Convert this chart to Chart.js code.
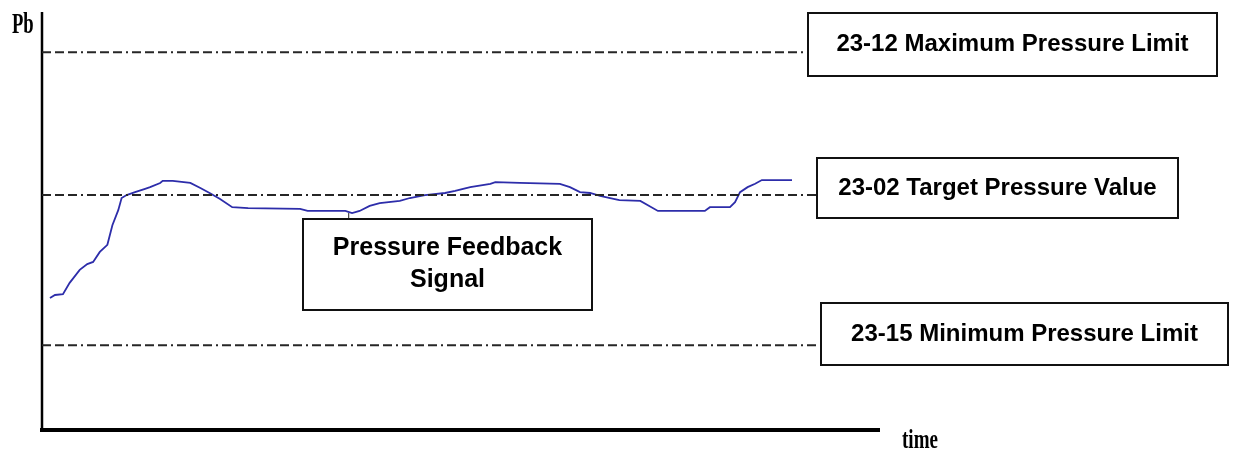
<!DOCTYPE html>
<html>
<head>
<meta charset="utf-8">
<script src="https://cdn.jsdelivr.net/npm/chart.js@4"></script>
<style>
  body { margin: 0; background: #fff; }
  canvas { display: block; }
</style>
</head>
<body>
<canvas id="pressureChart" width="1234" height="453"></canvas>
<script>
// time (s) and pressure feedback (bar)
const timeSec = [0.95, 1.55, 2.5, 3.3, 4.5, 5.4, 6.1, 6.9, 7.8, 8.4,
    9.1, 9.5, 10.1, 11.1, 12.3, 12.9, 14.1, 14.4, 15.6, 17.7,
    18.9, 20.0, 21.2, 22.7, 24.6, 30.8, 31.7, 36.2, 37.0, 37.9,
    39.1, 40.3, 42.7, 43.9, 45.7, 48.1, 49.3, 51.1, 53.5, 54.1,
    57.0, 61.8, 63.0, 64.2, 65.4, 66.6, 67.8, 68.9, 71.4, 73.5,
    76.1, 79.1, 79.7, 82.1, 82.7, 83.3, 84.2, 85.1, 85.9, 89.5];
const feedback = [3.16, 3.23, 3.25, 3.52, 3.83, 3.97, 4.02, 4.26, 4.43, 4.90,
    5.26, 5.55, 5.62, 5.69, 5.77, 5.81, 5.91, 5.96, 5.96, 5.91,
    5.79, 5.67, 5.53, 5.33, 5.31, 5.29, 5.24, 5.24, 5.19, 5.24,
    5.36, 5.43, 5.48, 5.55, 5.62, 5.67, 5.72, 5.81, 5.89, 5.93,
    5.91, 5.89, 5.81, 5.69, 5.67, 5.60, 5.55, 5.50, 5.48, 5.24,
    5.24, 5.24, 5.33, 5.33, 5.45, 5.69, 5.81, 5.89, 5.98, 5.98];

const limitNames = ['23-12 Maximum Pressure Limit', '23-02 Target Pressure Value', '23-15 Minimum Pressure Limit'];
const limitValues = [9.04, 5.62, 2.03];
const limitEnds = [91.4, 92.5, 93.0];

function hline(i) {
    return {
        label: limitNames[i],
        data: [{ x: 0, y: limitValues[i] }, { x: limitEnds[i], y: limitValues[i] }],
        borderColor: '#262626',
        borderWidth: 2,
        borderDash: [9, 4, 9, 4, 9, 4, 2, 4],
        pointRadius: 0
    };
}

function box(ctx, x, y, w, h, lines, size, lineGap) {
    ctx.fillStyle = '#fff';
    ctx.fillRect(x, y, w, h);
    ctx.strokeStyle = '#111';
    ctx.lineWidth = 2;
    ctx.strokeRect(x, y, w, h);
    ctx.fillStyle = '#000';
    ctx.font = 'bold ' + size + 'px "Liberation Sans", Arial, sans-serif';
    ctx.textAlign = 'center';
    ctx.textBaseline = 'middle';
    const cy = y + h / 2 - (lines.length - 1) * lineGap / 2;
    lines.forEach((t, k) => ctx.fillText(t, x + w / 2, cy + k * lineGap));
}

const sketch = {
    id: 'sketch',
    beforeDatasetsDraw(chart) {
        const ctx = chart.ctx;
        const xs = chart.scales.x, ys = chart.scales.y;
        ctx.save();
        ctx.strokeStyle = '#000';
        ctx.lineWidth = 2.5;
        ctx.beginPath();
        ctx.moveTo(xs.getPixelForValue(0), ys.getPixelForValue(10));
        ctx.lineTo(xs.getPixelForValue(0), ys.getPixelForValue(0));
        ctx.stroke();
        ctx.lineWidth = 4;
        ctx.beginPath();
        ctx.moveTo(xs.getPixelForValue(0) - 2, ys.getPixelForValue(0));
        ctx.lineTo(xs.getPixelForValue(100), ys.getPixelForValue(0));
        ctx.stroke();
        ctx.restore();
    },
    afterDatasetsDraw(chart) {
        const ctx = chart.ctx;
        const xs = chart.scales.x, ys = chart.scales.y;
        ctx.save();
        // axis names, narrow serif
        ctx.fillStyle = '#000';
        ctx.textAlign = 'left';
        ctx.textBaseline = 'alphabetic';
        ctx.save();
        ctx.translate(12, 33);
        ctx.scale(0.62, 1);
        ctx.font = 'bold 30px "Liberation Serif", serif';
        ctx.fillText('Pb', 0, 0);
        ctx.restore();
        ctx.save();
        ctx.translate(902, 448);
        ctx.scale(0.68, 1);
        ctx.font = 'bold 28px "Liberation Serif", serif';
        ctx.fillText('time', 0, 0);
        ctx.restore();

        // leader from signal box to curve
        const lx = xs.getPixelForValue(36.6);
        ctx.strokeStyle = '#222';
        ctx.lineWidth = 1;
        ctx.beginPath();
        ctx.moveTo(lx, ys.getPixelForValue(5.19));
        ctx.lineTo(lx, 219);
        ctx.stroke();

        box(ctx, 808, 13, 409, 63, [limitNames[0]], 24, 0);
        box(ctx, 817, 158, 361, 60, [limitNames[1]], 24, 0);
        box(ctx, 821, 303, 407, 62, [limitNames[2]], 24, 0);
        box(ctx, 303, 219, 289, 91, ['Pressure Feedback', 'Signal'], 25, 32);
        ctx.restore();
    }
};

new Chart(document.getElementById('pressureChart'), {
    type: 'line',
    data: {
        datasets: [hline(0), hline(1), hline(2), {
            label: 'Pressure Feedback Signal',
            data: timeSec.map((t, i) => ({ x: t, y: feedback[i] })),
            borderColor: 'rgb(45, 45, 170)',
            borderWidth: 1.8,
            pointRadius: 0,
            tension: 0
        }]
    },
    options: {
        responsive: false,
        animation: false,
        layout: { padding: { left: 42, top: 12, right: 354, bottom: 23 } },
        plugins: { legend: { display: false }, tooltip: { enabled: false } },
        scales: {
            x: { type: 'linear', min: 0, max: 100, display: false },
            y: { min: 0, max: 10, display: false }
        }
    },
    plugins: [sketch]
});
</script>
</body>
</html>
